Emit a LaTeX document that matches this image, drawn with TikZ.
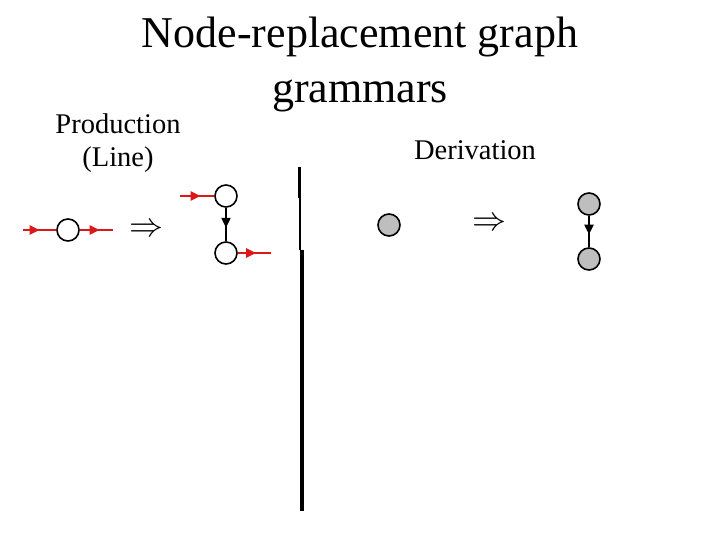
\documentclass[tikz,border=0pt]{standalone}
\usepackage{fontspec}
\setmainfont{Liberation Serif}
\usetikzlibrary{arrows.meta,decorations.markings}
\definecolor{myred}{RGB}{220,24,24}
\definecolor{mygrey}{RGB}{190,190,190}
\begin{document}
\begin{tikzpicture}[x=1pt,y=-1pt,
  vtx/.style={circle,draw=black,line width=1.6pt,minimum size=22pt,inner sep=0pt,fill=white},
  gvtx/.style={vtx,fill=mygrey},
  midarrow/.style={decoration={markings,mark=at position #1 with {\arrow{Triangle[length=10pt,width=9pt]}}},postaction={decorate}},
  redline/.style={draw=myred,line width=2.4pt},
  blkline/.style={draw=black,line width=2pt},
  lbl/.style={font=\fontsize{28.5}{33}\selectfont,align=center},
  impl/.style={inner sep=0pt}]
\useasboundingbox (0,0) rectangle (720,540);
\node[font=\fontsize{44}{55}\selectfont,align=center] (title) at (360,64) {Node-replacement graph\\grammars};
\node[lbl] (prod) at (118,143) {Production\\(Line)};
\node[lbl] (der) at (475,150) {Derivation};
% production left
\node[vtx] (a) at (68,230) {};
\coordinate (ain) at (23,230);
\coordinate (aout) at (113,230);
\draw[redline,midarrow=0.5] (ain) -- (a);
\draw[redline,midarrow=0.6] (a) -- (aout);
\node[impl] (imp1) at (146,230) {\scalebox{3.4}{$\Rightarrow$}};
% production right
\node[vtx] (b) at (226,196) {};
\node[vtx] (c) at (226,253) {};
\coordinate (bin) at (180,196);
\coordinate (cout) at (271,253);
\draw[redline,midarrow=0.6] (bin) -- (b);
\draw[blkline,midarrow=0.6] (b) -- (c);
\draw[redline,midarrow=0.55] (c) -- (cout);
% separator
\coordinate (s1) at (299,167);
\coordinate (s2) at (299,198);
\coordinate (s3) at (300,198);
\coordinate (s4) at (300,250);
\coordinate (s5) at (302,250);
\coordinate (s6) at (302,511);
\draw[line width=3pt] (s1) -- (s2);
\draw[line width=1.5pt] (s3) -- (s4);
\draw[line width=3.2pt] (s5) -- (s6);
% derivation
\node[gvtx] (d) at (389,225) {};
\node[impl] (imp2) at (489,224) {\scalebox{3.4}{$\Rightarrow$}};
\node[gvtx] (e) at (589,204) {};
\node[gvtx] (f) at (589,259) {};
\draw[blkline,midarrow=0.6] (e) -- (f);
\end{tikzpicture}
\end{document}
